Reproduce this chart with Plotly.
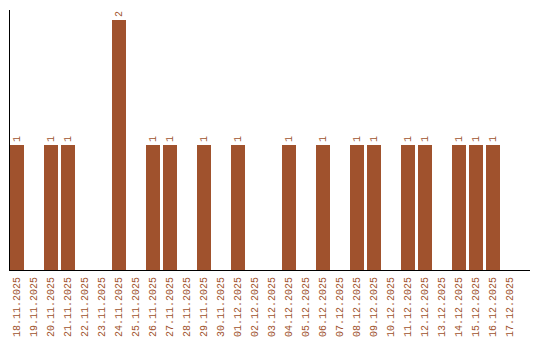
import plotly.graph_objects as go

dates = ["18.11.2025", "19.11.2025", "20.11.2025", "21.11.2025", "22.11.2025",
         "23.11.2025", "24.11.2025", "25.11.2025", "26.11.2025", "27.11.2025",
         "28.11.2025", "29.11.2025", "30.11.2025", "01.12.2025", "02.12.2025",
         "03.12.2025", "04.12.2025", "05.12.2025", "06.12.2025", "07.12.2025",
         "08.12.2025", "09.12.2025", "10.12.2025", "11.12.2025", "12.12.2025",
         "13.12.2025", "14.12.2025", "15.12.2025", "16.12.2025", "17.12.2025"]
counts = [1, 0, 1, 1, 0, 0, 2, 0, 1, 1, 0, 1, 0, 1, 0, 0, 1, 0, 1, 0,
          1, 1, 0, 1, 1, 0, 1, 1, 1, 0]

color = "#A0522D"
font = "Liberation Mono"

labels = [str(v) if v > 0 else "" for v in counts]

fig = go.Figure(go.Bar(
    x=dates, y=counts, marker_color=color, marker_line_width=0,
    text=labels, textposition="outside", textangle=-90,
    textfont=dict(family=font, size=10, color=color),
    cliponaxis=False, hoverinfo="skip",
))

fig.update_layout(
    width=540, height=340,
    margin=dict(l=10, r=10, t=10, b=70, autoexpand=False),
    paper_bgcolor="white", plot_bgcolor="white",
    bargap=3/17, showlegend=False,
    font=dict(family=font, size=10, color=color),
)
fig.update_xaxes(
    type="category", range=[-7/17, 29 + 20/17],
    showline=True, linecolor="black", linewidth=1,
    showgrid=False, ticks="", tickangle=-90, automargin=False,
    ticklabelstandoff=2,
    tickfont=dict(family=font, size=10, color=color),
    fixedrange=True,
)
fig.update_yaxes(
    range=[0, 2.08], showline=True, linecolor="black", linewidth=1,
    showgrid=False, zeroline=False, showticklabels=False, ticks="",
    automargin=False, fixedrange=True,
)

fig.write_html("out.html", config={"displayModeBar": False})
